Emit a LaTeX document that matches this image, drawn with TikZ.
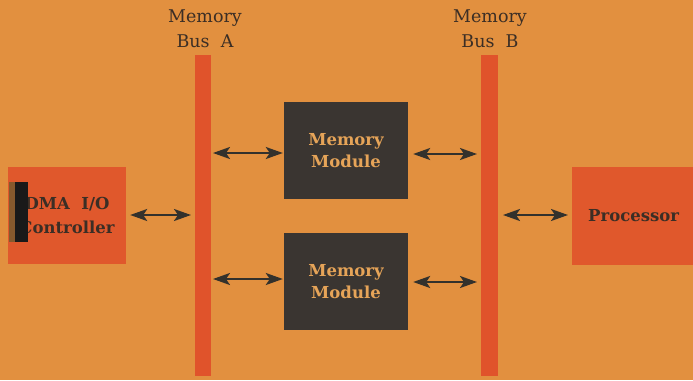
\documentclass[tikz,border=0pt]{standalone}
\usepackage{fontspec}
\setmainfont{DejaVu Serif}
\usetikzlibrary{arrows.meta}
\definecolor{bg}{HTML}{E2903F}
\definecolor{busred}{HTML}{E0532B}
\definecolor{boxred}{HTML}{E0582C}
\definecolor{dark}{HTML}{3A3531}
\definecolor{ink}{HTML}{3B2E25}
\definecolor{arrowink}{HTML}{33312C}
\definecolor{modtxt}{HTML}{E6A458}
\begin{document}
\begin{tikzpicture}[x=1pt,y=-1pt,
  bus/.style={fill=busred,draw=none},
  modbox/.style={fill=dark,draw=none,minimum width=124pt,minimum height=97pt,text=modtxt,font=\bfseries\fontsize{16.5}{22}\selectfont,align=center,inner sep=0pt},
  redbox/.style={fill=boxred,draw=none,text=ink,font=\bfseries\fontsize{16.5}{24}\selectfont,align=center,inner sep=0pt},
  buslabel/.style={text=ink,font=\fontsize{17.5}{25}\selectfont,align=center,inner sep=0pt},
  dbl/.style={draw=arrowink,line width=2.2pt,{Stealth[length=17pt,width=12pt,inset=4pt]}-{Stealth[length=17pt,width=12pt,inset=4pt]}}
]
\useasboundingbox (0,0) rectangle (693,380);
\fill[bg] (0,0) rectangle (693,380);
% buses
\fill[bus] (195,55) rectangle (211,376);
\fill[bus] (481,55) rectangle (498,376);
\node[buslabel] (labA) at (205,29) {Memory\\Bus\ \ A};
\node[buslabel] (labB) at (490,29) {Memory\\Bus\ \ B};
% modules
\node[modbox] (m1) at (346,150.5) {Memory\\Module};
\node[modbox] (m2) at (346,281.5) {Memory\\Module};
% red boxes
\node[redbox,minimum width=118pt,minimum height=97pt] (dma) at (67,215.5) {DMA\ \ I/O\\Controller};
\fill[black!90] (15,182) rectangle (28,242);
\fill[brown!70!black] (9,182) rectangle (15,242);
\node[redbox,minimum width=121pt,minimum height=98pt,anchor=west] (proc) at (572,216) {\hspace*{2pt}Processor};
% bus anchor coordinates
\coordinate (a1) at (213,153);
\coordinate (a2) at (213,279);
\coordinate (b1) at (477,154);
\coordinate (b2) at (477,282);
\coordinate (aL) at (191,215);
\coordinate (bR) at (503,215);
\draw[dbl] (a1) -- ([xshift=-1pt]m1.west |- a1);
\draw[dbl] (a2) -- ([xshift=-1pt]m2.west |- a2);
\draw[dbl] ([xshift=5pt]m1.east |- b1) -- (b1);
\draw[dbl] ([xshift=5pt]m2.east |- b2) -- (b2);
\draw[dbl] ([xshift=4pt]dma.east |- aL) -- (aL);
\draw[dbl] (bR) -- ([xshift=-4pt]proc.west |- bR);
\end{tikzpicture}
\end{document}
